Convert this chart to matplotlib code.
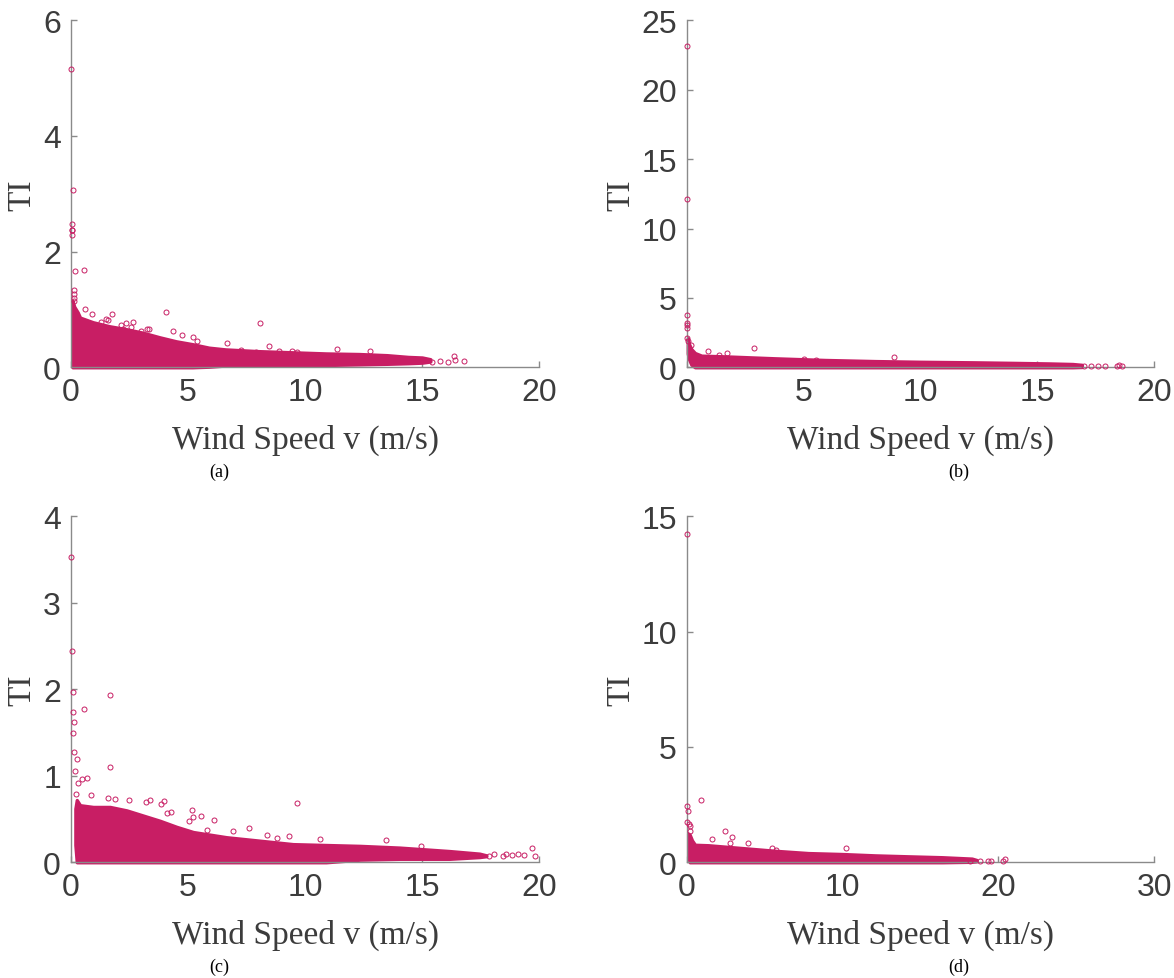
import numpy as np
import matplotlib
matplotlib.use("Agg")
import matplotlib.pyplot as plt

MAG = "#C81E64"
AXC = "#8a8a8a"
TXT = "#3c3c3c"

# ---------------------------------------------------------------- panel (a)
out_a_v = [0.03, 0.09, 0.06, 0.06, 0.06, 0.06, 0.19, 0.58, 0.13, 0.15, 0.13, 0.15,
           0.6, 0.91, 1.77, 4.07, 8.09, 1.52, 1.59, 1.30, 2.37, 2.65, 2.13, 3.25, 3.36,
           3.0, 4.38, 4.74, 5.23, 5.40, 6.68, 8.48, 11.37, 9.46, 9.67, 7.9, 7.26, 8.89,
           2.23, 2.58, 12.77, 15.42, 15.77, 16.09, 16.37, 16.38, 16.77]
out_a_ti = [5.15, 3.06, 2.48, 2.38, 2.37, 2.28, 1.67, 1.69, 1.34, 1.27, 1.19, 1.15,
            1.0, 0.92, 0.93, 0.96, 0.76, 0.84, 0.82, 0.79, 0.76, 0.78, 0.73, 0.67, 0.67,
            0.62, 0.63, 0.56, 0.52, 0.46, 0.42, 0.36, 0.32, 0.28, 0.27, 0.27, 0.30, 0.28,
            0.66, 0.69, 0.29, 0.10, 0.11, 0.10, 0.20, 0.12, 0.11]
band_a_v = [0.08, 0.15, 0.3, 0.4, 0.95, 1.66, 2.37, 3.07, 3.79, 4.5, 5.2, 5.9, 6.6,
            8.0, 9.45, 10.9, 12.3, 13.5, 14.4, 15.0, 15.35]
band_a_hi = [1.15, 1.05, 0.95, 0.86, 0.78, 0.71, 0.66, 0.60, 0.52, 0.45, 0.40, 0.34,
             0.31, 0.28, 0.26, 0.24, 0.23, 0.21, 0.18, 0.17, 0.14]
band_a_lo = [0.0, 0.0, 0.0, 0.0, 0.0, 0.0, 0.0, 0.0, 0.0, 0.0, 0.0, 0.01, 0.03,
             0.04, 0.04, 0.04, 0.05, 0.06, 0.07, 0.08, 0.10]

# ---------------------------------------------------------------- panel (b)
out_b_v = [0.0, 0.0, 0.0, 0.0, 0.0, 0.03, 0.03, 0.07, 0.19, 0.93, 1.39, 1.75, 2.89,
           8.85, 5.0, 5.55, 17.0, 17.3, 17.6, 17.9, 18.4, 18.5, 18.6]
out_b_ti = [23.17, 12.14, 3.79, 3.19, 3.04, 2.80, 2.09, 1.92, 1.61, 1.20, 0.89, 1.03,
            1.37, 0.72, 0.60, 0.53, 0.12, 0.12, 0.12, 0.12, 0.12, 0.19, 0.10]
band_b_v = [0.05, 0.1, 0.2, 0.36, 0.64, 1.64, 3.78, 5.92, 8.06, 10.0, 12.3, 14.0,
            15.5, 16.5, 16.9]
band_b_hi = [2.1, 1.7, 1.32, 1.03, 0.84, 0.79, 0.65, 0.53, 0.45, 0.40, 0.36, 0.32,
             0.28, 0.24, 0.18]
band_b_lo = [1.0, 0.6, 0.2, 0.0, 0.0, 0.0, 0.0, 0.0, 0.0, 0.0, 0.0, 0.0, 0.0, 0.0, 0.02]

# ---------------------------------------------------------------- panel (c)
out_c_v = [0.03, 0.06, 0.09, 1.67, 0.11, 0.55, 0.13, 0.11, 0.13, 0.27, 1.67, 0.19,
           0.47, 0.68, 0.31, 9.65, 0.24, 0.87, 1.61, 1.89, 2.47, 3.2, 3.39, 3.86, 3.97,
           4.09, 4.28, 5.17, 5.57, 6.11, 5.04, 5.2, 7.59, 6.91, 8.38, 8.79, 9.32, 10.63,
           13.46, 14.93, 19.69, 19.8, 17.84, 18.06, 18.43, 18.58, 18.82, 19.1, 19.34, 5.83]
out_c_ti = [3.53, 2.44, 1.97, 1.93, 1.74, 1.77, 1.62, 1.49, 1.28, 1.19, 1.10, 1.05,
            0.96, 0.98, 0.92, 0.69, 0.79, 0.78, 0.74, 0.73, 0.72, 0.70, 0.72, 0.67, 0.71,
            0.57, 0.58, 0.61, 0.53, 0.49, 0.48, 0.52, 0.40, 0.36, 0.32, 0.28, 0.30, 0.27,
            0.26, 0.19, 0.17, 0.07, 0.07, 0.09, 0.07, 0.09, 0.08, 0.09, 0.08, 0.37]
band_c_v = [0.2, 0.26, 0.4, 0.96, 1.68, 2.39, 3.1, 3.81, 4.52, 5.23, 6.65, 8.07,
            9.49, 10.9, 12.35, 14.04, 16.17, 17.45, 17.74]
band_c_hi = [0.62, 0.72, 0.66, 0.64, 0.64, 0.60, 0.54, 0.48, 0.41, 0.35, 0.29, 0.25,
             0.21, 0.20, 0.19, 0.17, 0.13, 0.10, 0.08]
band_c_lo = [0.2, 0.0, 0.0, 0.0, 0.0, 0.0, 0.0, 0.0, 0.0, 0.0, 0.0, 0.0, 0.0, 0.0,
             0.03, 0.04, 0.04, 0.06, 0.07]

# ---------------------------------------------------------------- panel (d)
out_d_v = [0.0, 0.05, 0.1, 0.91, 0.05, 0.15, 0.22, 0.22, 2.45, 2.93, 1.61, 2.81,
           3.96, 10.2, 5.45, 5.74, 20.42, 20.3, 18.2, 18.8, 19.3, 19.55]
out_d_ti = [14.23, 2.46, 2.21, 2.72, 1.73, 1.66, 1.59, 1.34, 1.34, 1.11, 1.01, 0.84,
            0.84, 0.64, 0.61, 0.54, 0.14, 0.06, 0.07, 0.07, 0.07, 0.07]
band_d_v = [0.1, 0.2, 0.35, 0.54, 1.39, 3.53, 5.67, 7.81, 9.95, 12.1, 14.2, 16.4,
            18.3, 18.6]
band_d_hi = [1.25, 1.2, 0.95, 0.76, 0.74, 0.62, 0.50, 0.40, 0.36, 0.30, 0.26, 0.22,
             0.16, 0.10]
band_d_lo = [0.3, 0.0, 0.0, 0.0, 0.0, 0.0, 0.0, 0.0, 0.0, 0.0, 0.0, 0.0, 0.02, 0.04]

x_ticks_abc = [0, 5, 10, 15, 20]
x_ticks_d = [0, 10, 20, 30]
y_ticks = {
    "a": [0, 2, 4, 6],
    "b": [0, 5, 10, 15, 20, 25],
    "c": [0, 1, 2, 3, 4],
    "d": [0, 5, 10, 15],
}

panels = [
    ("a", [0.0602, 0.6238, 0.3992, 0.3544], out_a_v, out_a_ti, band_a_v, band_a_hi, band_a_lo, x_ticks_abc, -0.072),
    ("b", [0.5848, 0.6238, 0.3985, 0.3544], out_b_v, out_b_ti, band_b_v, band_b_hi, band_b_lo, x_ticks_abc, -0.108),
    ("c", [0.0602, 0.1182, 0.3992, 0.3534], out_c_v, out_c_ti, band_c_v, band_c_hi, band_c_lo, x_ticks_abc, -0.072),
    ("d", [0.5848, 0.1182, 0.3985, 0.3534], out_d_v, out_d_ti, band_d_v, band_d_hi, band_d_lo, x_ticks_d, -0.108),
]

fig = plt.figure(figsize=(11.74, 9.79), dpi=100)

for key, pos, ov, oti, bv, bhi, blo, xt, ylx in panels:
    ax = fig.add_axes(pos)
    # dense cloud of points drawn as its envelope
    ax.fill_between(bv, blo, bhi, color=MAG, lw=2.4, edgecolor=MAG, zorder=2, clip_on=False)
    ax.plot(ov, oti, "o", ms=3.6, mfc="none", mec=MAG, mew=0.7, zorder=3, clip_on=False)

    yt = y_ticks[key]
    ax.set_xlim(xt[0], xt[-1])
    ax.set_ylim(yt[0], yt[-1])
    ax.set_xticks(xt)
    ax.set_yticks(yt)
    for s in ("top", "right"):
        ax.spines[s].set_visible(False)
    for s in ("left", "bottom"):
        ax.spines[s].set_color(AXC)
        ax.spines[s].set_linewidth(1.0)
    ax.tick_params(direction="in", length=4, width=1.0, color=AXC,
                   labelcolor=TXT, labelsize=23)
    ax.tick_params(axis="x", pad=7)
    ax.tick_params(axis="y", pad=7)
    for lab in ax.get_xticklabels() + ax.get_yticklabels():
        lab.set_family("Liberation Sans")

    ax.set_xlabel("Wind Speed v (m/s)", family="Liberation Serif", fontsize=24, color=TXT)
    ax.set_ylabel("TI", family="Liberation Serif", fontsize=24, color=TXT)
    ax.xaxis.set_label_coords(0.5, -0.162)
    ax.yaxis.set_label_coords(ylx, 0.5)

    # subfigure caption
    cx = pos[0] + (0.318 if key in "ac" else 0.582) * pos[2]
    cy = pos[1] - 0.30 * pos[3]
    fig.text(cx, cy, f"({key})", ha="center", va="center",
             family="Liberation Serif", fontsize=13, color="black")

fig.savefig("out.png", dpi=100)
